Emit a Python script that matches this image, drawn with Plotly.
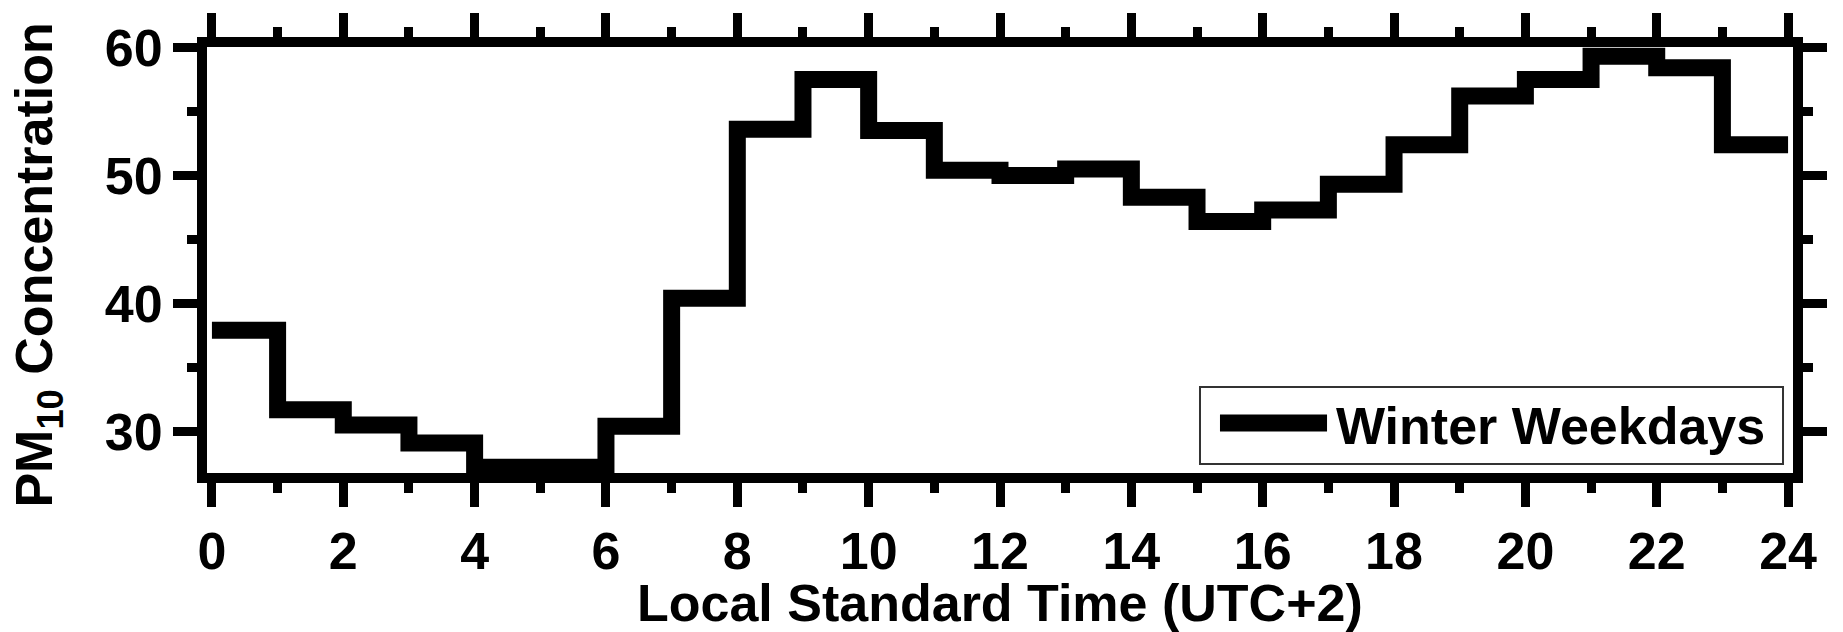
import plotly.graph_objects as go

# Hourly mean PM10 on winter weekdays (hour-beginning, local standard time)
hours = list(range(24))
pm10 = [37.9, 31.7, 30.5, 29.1, 27.2, 27.2, 30.4, 40.4, 53.6, 57.5, 53.5, 50.4,
        50.0, 50.5, 48.3, 46.4, 47.3, 49.3, 52.4, 56.2, 57.5, 59.3, 58.4, 52.4]
series_name = "Winter Weekdays"

x_ticks = list(range(0, 25, 2))
y_ticks = [30, 40, 50, 60]
x_title = "Local Standard Time (UTC+2)"
y_title = "PM<sub>10</sub> Concentration"

FONT = "Liberation Sans, Arial, sans-serif"

# each hourly value is held until the start of the next hour
step_x = hours + [hours[-1] + 1]
step_y = pm10 + [pm10[-1]]

fig = go.Figure()
fig.add_trace(go.Scatter(
    x=step_x, y=step_y, mode="lines", name=series_name,
    line=dict(shape="hv", color="black", width=17),
    showlegend=False,
))

axis_common = dict(
    showline=True, linecolor="black", linewidth=10, mirror="allticks",
    ticks="outside", ticklen=24, tickwidth=9, tickcolor="black",
    showgrid=False, zeroline=False,
    tickfont=dict(family=FONT, size=52, color="black", weight="bold"),
)

fig.update_xaxes(
    range=[-0.075, 24.075], tickvals=x_ticks,
    minor=dict(ticks="outside", ticklen=10, tickwidth=9, tickcolor="black", dtick=1, tick0=0),
    **axis_common,
)
fig.update_yaxes(
    range=[26.75, 60.03], tickvals=y_ticks,
    minor=dict(ticks="outside", ticklen=10, tickwidth=9, tickcolor="black", dtick=5, tick0=0),
    **axis_common,
)

# legend box drawn in paper space
fig.add_shape(type="rect", xref="paper", yref="paper",
              x0=0.6261, x1=0.9937, y0=0.0211, y1=0.2019,
              line=dict(color="#333333", width=2), fillcolor="white", layer="above")
fig.add_shape(type="line", xref="paper", yref="paper",
              x0=0.6387, x1=0.7062, y0=0.1174, y1=0.1174,
              line=dict(color="black", width=17), layer="above")
fig.add_annotation(text=series_name, xref="paper", yref="paper",
                   x=0.7105, y=0.1103, xanchor="left", yanchor="middle",
                   showarrow=False,
                   font=dict(family=FONT, size=52, color="black", weight="bold"))

# axis titles
fig.add_annotation(text=x_title, xref="paper", yref="paper",
                   x=0.5, y=-0.304, xanchor="center", yanchor="middle",
                   showarrow=False,
                   font=dict(family=FONT, size=52, color="black", weight="bold"))
fig.add_annotation(text=y_title, xref="paper", yref="paper",
                   x=-0.1066, y=0.489, xanchor="center", yanchor="middle",
                   textangle=-90, showarrow=False,
                   font=dict(family=FONT, size=52, color="black", weight="bold"))

fig.update_layout(
    width=1843, height=632,
    margin=dict(l=207, r=50, t=47, b=159, autoexpand=False),
    paper_bgcolor="white", plot_bgcolor="white",
    showlegend=False,
)

fig.write_html("out.html")
